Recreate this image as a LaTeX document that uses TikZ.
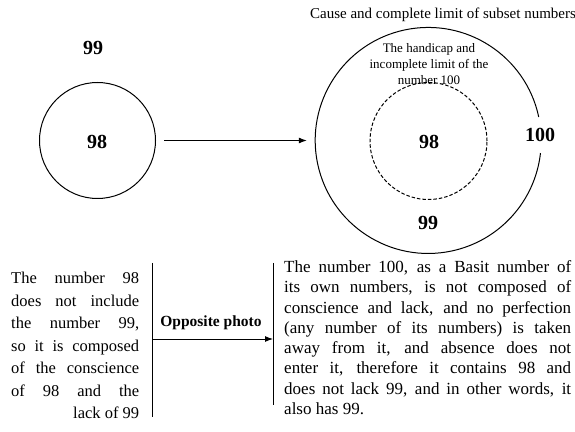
\documentclass[tikz,border=0pt]{standalone}
\usepackage{fontspec}
\setmainfont{Liberation Serif}
\usetikzlibrary{arrows.meta}
\newcommand\jl[1]{\par\noindent\hbox to\hsize{\spaceskip=0pt\xspaceskip=0pt #1}\par}
\tikzset{
  ring/.style={circle, draw, line width=1pt, inner sep=0pt},
  num/.style={font=\fontsize{20}{22}\selectfont\bfseries, inner sep=0pt},
  arr/.style={line width=1pt, -{Latex[length=8pt,width=6pt]}},
  vline/.style={line width=0.8pt},
  para/.style={anchor=north west, inner sep=0pt, align=justify},
}
\begin{document}
\begin{tikzpicture}[x=1pt,y=1pt]
\useasboundingbox (0,0) rectangle (575,431);
% top left
\node[ring, minimum size=116pt] (c1) at (97.5,290.5) {};
\node[num] (n98a) at (97,289) {98};
\node[num] (n99a) at (93,383) {99};
% top right
\node[inner sep=0pt, minimum size=226pt, circle] (c2) at (428,290.5) {};
\draw[line width=1pt] (c2.12) arc[start angle=12, end angle=353.6, radius=113pt];
\node[ring, dashed, dash pattern=on 3.5pt off 2pt, minimum size=117pt] (c3) at (428.5,290) {};
\node[num] (n98b) at (429,289) {98};
\node[num] (n99b) at (428,208) {99};
\node[num] (n100) at (540,296) {100};
\node[inner sep=0pt, font=\fontsize{15}{18}\selectfont] (title) at (443,416) {Cause and complete limit of subset numbers};
\node[inner sep=0pt, align=center, font=\fontsize{13}{16}\selectfont] (hand) at (429,367)
  {The handicap and\\incomplete limit of the\\number 100};
\draw[arr] ([xshift=8pt]c1.east) -- ([xshift=-8pt]c2.west);
% bottom
\coordinate (l1) at (152,168);
\coordinate (l2) at (152,14);
\coordinate (r1) at (273,168);
\coordinate (r2) at (273,26);
\draw[vline] (l1) -- (l2);
\draw[vline] (r1) -- (r2);
\coordinate (a1) at (152,92);
\coordinate (a2) at (273,92);
\draw[arr] (a1) -- (a2);
\node[inner sep=0pt, font=\fontsize{15.5}{18}\selectfont\bfseries] (opp) at (211,108) {Opposite photo};
\node[para, text width=128pt, font=\fontsize{16.5}{22.5}\selectfont] (lt) at (11,170) {%
\jl{The number 98}%
\jl{does not include}%
\jl{the number 99,}%
\jl{so it is composed}%
\jl{of the conscience}%
\jl{of 98 and the}%
\jl{\hfill lack of 99}};
\node[para, text width=287pt, font=\fontsize{17}{20.3}\selectfont] (rt) at (284,179) {%
\jl{The number 100, as a Basit number of}%
\jl{its own numbers, is not composed of}%
\jl{conscience and lack, and no perfection}%
\jl{(any number of its numbers) is taken}%
\jl{away from it, and absence does not}%
\jl{enter it, therefore it contains 98 and}%
\jl{does not lack 99, and in other words, it}%
\jl{also has 99.\hfill}};
\end{tikzpicture}
\end{document}
